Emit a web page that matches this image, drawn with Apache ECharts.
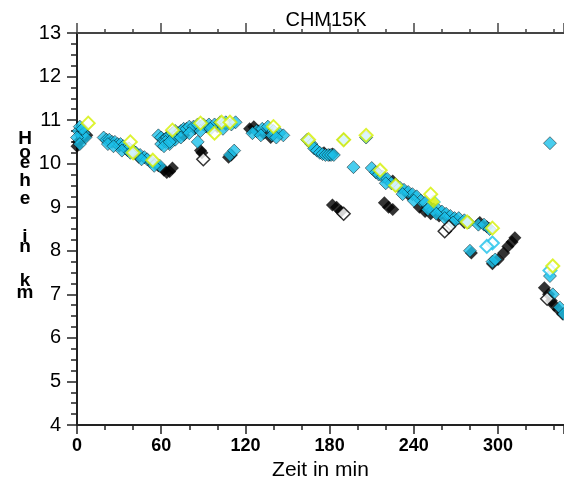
<!DOCTYPE html>
<html><head><meta charset="utf-8">
<script src="https://cdn.jsdelivr.net/npm/echarts@6/dist/echarts.min.js"></script>
<style>html,body{margin:0;padding:0;background:#fff}#c{width:564px;height:480px}</style>
</head><body><div id="c"></div>
<script>
const title = "CHM15K";
const xTitle = "Zeit in min";
const yTitleChars = ["H","o","e","h","e","i","n","k","m"];
const yTitleYs = [139,153,163,181,199,237,247,281,293];
const xTicks = [0,60,120,180,240,300];
const yTicks = [4,5,6,7,8,9,10,11,12,13];

const cyanFilled = [
 [1,10.75],[2,10.85],[3,10.65],[5,10.7],[6,10.6],[0,10.6],[2,10.45],[4,10.8],
 [19,10.6],[21,10.55],[23,10.55],[25,10.5],[27,10.5],[29,10.45],[31,10.45],[33,10.4],[35,10.35],[37,10.35],[40,10.3],[42,10.25],[45,10.2],[48,10.15],[50,10.1],[53,10.05],[56,10.0],[59,9.95],
 [22,10.45],[26,10.4],[32,10.3],[38,10.25],[46,10.1],[55,9.95],
 [58,10.65],[60,10.6],[62,10.55],[64,10.6],[66,10.65],[68,10.7],[70,10.75],[72,10.7],[74,10.75],[76,10.8],[78,10.8],[80,10.85],[83,10.85],[86,10.9],[90,10.9],[94,10.9],[98,10.9],[102,10.95],[106,10.95],[110,10.9],[113,10.95],
 [60,10.45],[63,10.5],[66,10.45],[70,10.55],[62,10.4],[66,10.5],[74,10.6],[80,10.7],[88,10.75],[95,10.8],[104,10.8],
 [86,10.5],[109,10.2],[112,10.3],
 [128,10.75],[132,10.8],[136,10.85],[140,10.75],[144,10.7],[147,10.65],[125,10.7],[131,10.65],[139,10.65],[142,10.6],
 [164,10.55],[167,10.45],[169,10.35],[171,10.3],[173,10.25],[175,10.22],[177,10.2],[179,10.2],[181,10.2],[183,10.2],
 [190,10.55],[206,10.6],[197,9.92],
 [210,9.9],[213,9.8],[215,9.75],[218,9.7],[221,9.65],[224,9.55],[227,9.5],[230,9.45],[233,9.4],[236,9.35],[239,9.3],[242,9.25],[245,9.15],[248,9.1],[251,9.0],[254,8.95],[257,8.95],[260,8.9],[263,8.85],[266,8.8],[269,8.75],[272,8.75],[276,8.7],[279,8.65],[286,8.6],[290,8.6],[294,8.5],
 [220,9.55],[232,9.3],[240,9.15],[250,8.95],[256,8.85],[262,8.75],[268,8.65],
 [280,8.0],[296,7.75],[298,7.8],
 [337,10.47],[337,7.42],[339,7.0],[344,6.7],[347,6.55]
];
const blackFilled = [
 [0,10.4],[1,10.5],[3,10.55],[5,10.6],[7,10.65],
 [30,10.4],[36,10.3],[44,10.15],[52,10.05],[58,9.95],[62,9.85],[64,9.8],[66,9.82],[68,9.9],
 [70,10.6],[76,10.65],[84,10.8],[92,10.85],[100,10.85],[106,10.9],
 [88,10.3],[89,10.25],[108,10.15],[110,10.2],
 [123,10.8],[126,10.85],[129,10.75],[133,10.7],[138,10.6],
 [176,10.25],[180,10.2],[182,10.22],
 [182,9.05],[185,9.0],[188,8.9],
 [219,9.1],[222,9.0],[225,8.95],
 [214,9.8],[225,9.6],[236,9.3],[244,9.0],[248,8.9],[252,8.85],[258,8.8],[264,8.75],[270,8.7],[276,8.65],[287,8.65],[292,8.55],
 [281,7.95],
 [296,7.7],[300,7.8],[304,7.95],[307,8.1],[310,8.2],[312,8.3],
 [333,7.15],[336,7.0],[338,6.85],[340,6.75],[343,6.65],[346,6.55]
];
const yellowHollow = [
 [8,10.93],[38,10.5],[40,10.25],[54,10.08],[68,10.77],[88,10.93],[98,10.7],[103,10.95],[109,10.95],[140,10.85],[165,10.55],[190,10.55],[206,10.65],[216,9.85],[227,9.5],[252,9.3],[278,8.66],[296,8.52],[339,7.65]
];
const yellowFilled = [[254,9.12]];
const whiteHollow = [[90,10.1],[262,8.45],[265,8.55],[190,8.85],[335,6.9]];
const cyanHollow = [[296,8.18],[337,7.55],[292,8.1]];

const chart = echarts.init(document.getElementById('c'), null, {renderer:'canvas'});
const axisColor = '#222';
const numFont = 'Liberation Sans, Arial, sans-serif';
function sc(name, data, opts){
  return Object.assign({type:'scatter', name, data, symbol:'diamond', symbolSize:13, animation:false, clip:true}, opts);
}
chart.setOption({
  animation:false,
  backgroundColor:'#fff',
  title:{text:title, left:321, top:5, textAlign:'center', textStyle:{fontFamily:numFont, fontSize:20, fontWeight:'normal', color:'#000'}},
  grid:{left:77, top:33, right:0, bottom:55, containLabel:false, outerBoundsMode:'none'},
  xAxis:[{
    type:'value', position:'bottom', min:0, max:347, interval:60,
    name:xTitle, nameLocation:'middle', nameGap:35,
    nameTextStyle:{fontFamily:numFont, fontSize:21, color:'#000'},
    axisLine:{show:true, lineStyle:{color:axisColor, width:2}},
    axisTick:{show:true, length:9, lineStyle:{color:axisColor, width:1.5}},
    minorTick:{show:true, splitNumber:3, length:5, lineStyle:{color:axisColor, width:1.5}},
    axisLabel:{show:true, margin:12, fontFamily:numFont, fontSize:18, fontWeight:'bold', color:'#000', showMaxLabel:false,
      formatter:v=> xTicks.indexOf(v)>=0 ? String(v) : ''},
    splitLine:{show:false}
  },{
    type:'value', position:'top', min:0, max:347, interval:60,
    axisLine:{show:true, lineStyle:{color:'#444', width:2}},
    axisTick:{show:true, length:10, lineStyle:{color:'#444', width:1.5}},
    minorTick:{show:true, splitNumber:3, length:4, lineStyle:{color:'#444', width:1.5}},
    axisLabel:{show:false}, splitLine:{show:false}
  }],
  yAxis:{
    type:'value', min:4, max:13, interval:1,
    axisLine:{show:true, lineStyle:{color:axisColor, width:2}},
    axisTick:{show:true, length:10, lineStyle:{color:axisColor, width:1.5}},
    minorTick:{show:true, splitNumber:4, length:6, lineStyle:{color:axisColor, width:1.5}},
    axisLabel:{margin:16, fontFamily:numFont, fontSize:20, color:'#000',
      formatter:v=> yTicks.indexOf(v)>=0 ? String(v) : ''},
    splitLine:{show:false}
  },
  graphic: yTitleChars.map((ch,i)=>({type:'text', x:25, y:yTitleYs[i],
    style:{text:ch, fill:'#000', font:'bold 19px Liberation Sans, Arial, sans-serif', textAlign:'center', textVerticalAlign:'middle'}})),
  series:[
    sc('black', blackFilled, {itemStyle:{color:'#000'}}),
    sc('cyan', cyanFilled, {itemStyle:{color:'#1cc0ea', borderColor:'#000', borderWidth:0.6}}),
    sc('cyanHollow', cyanHollow, {symbol:'emptyDiamond', itemStyle:{color:'#1cc0ea', borderColor:'#1cc0ea', borderWidth:1.5}}),
    sc('white', whiteHollow, {itemStyle:{color:'#fff', borderColor:'#000', borderWidth:1.5}}),
    sc('yellowFilled', yellowFilled, {symbolSize:14, itemStyle:{color:'#d4f000', borderColor:'#1cc0ea', borderWidth:1}}),
    sc('yellow', yellowHollow, {symbol:'emptyDiamond', itemStyle:{color:'#d4f000', borderColor:'#d4f000', borderWidth:1.8}})
  ]
});
</script></body></html>
